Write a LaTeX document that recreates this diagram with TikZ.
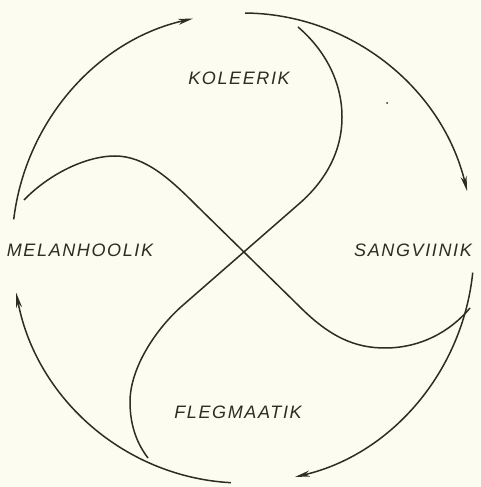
\documentclass[tikz,border=0pt]{standalone}
\usepackage{fontspec}
\setmainfont{Liberation Sans}
\newfontfamily\lblfont[LetterSpace=9]{Liberation Sans}
\usetikzlibrary{arrows.meta}
\definecolor{paper}{RGB}{253,252,241}
\definecolor{ink}{RGB}{45,45,32}
\begin{document}
\begin{tikzpicture}[x=1pt,y=1pt,
  ring/.style={line width=1.5pt, draw=ink, -{Stealth[length=15pt,width=6pt,inset=4.5pt]}},
  swirl/.style={line width=1.5pt, draw=ink, line join=round},
  lbl/.style={font=\lblfont\itshape\fontsize{18}{18}\selectfont, text=ink, inner sep=0pt}]
\useasboundingbox (0,0) rectangle (481,487);
\fill[paper] (0,0) rectangle (481,487);
\coordinate (C) at (243,239);
% outer arrows (clockwise)
\draw[ring] ([shift={(173:231pt and 235pt)}]C) arc[start angle=173,end angle=102.5,x radius=231pt,y radius=235pt];
\draw[ring] ([shift={(89.5:231pt and 235pt)}]C) arc[start angle=89.5,end angle=14,x radius=231pt,y radius=235pt];
\draw[ring] ([shift={(-6:231pt and 235pt)}]C) arc[start angle=-6,end angle=-77,x radius=231pt,y radius=235pt];
\draw[ring] ([shift={(-93:231pt and 235pt)}]C) arc[start angle=-93,end angle=-169,x radius=231pt,y radius=235pt];
% inner swirls
\draw[swirl] (298,460) .. controls (325,437) and (342,405) .. (342,370)
  .. controls (342,335) and (325,306) .. (300,284)
  -- (182,181)
  .. controls (157,159) and (130,120) .. (130,85)
  .. controls (130,60) and (138,42) .. (148,29);
\draw[swirl] (24,287) .. controls (48,312) and (85,331) .. (115,331)
  .. controls (145,331) and (170,308) .. (196,282)
  -- (300,180)
  .. controls (330,150) and (355,139) .. (385,139)
  .. controls (420,139) and (450,155) .. (470,179);
% labels
\node[lbl] (kol) at (239,409) {KOLEERIK};
\node[lbl] (mel) at (80,237) {MELANHOOLIK};
\node[lbl] (san) at (413,237) {SANGVIINIK};
\node[lbl] (fle) at (238,75) {FLEGMAATIK};
\fill[ink] (387,384) circle (1pt);
\end{tikzpicture}
\end{document}
